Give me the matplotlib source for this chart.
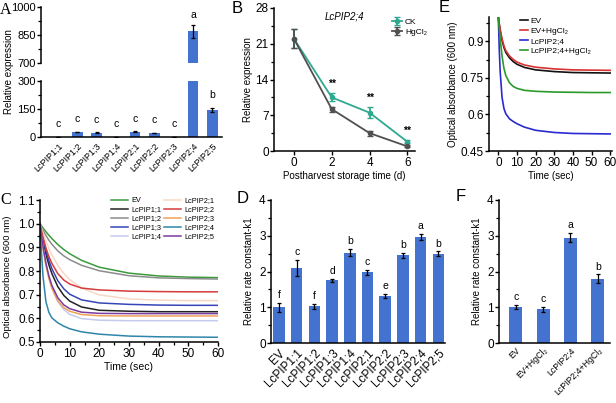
import matplotlib
matplotlib.use("Agg")
import matplotlib.pyplot as plt
import numpy as np

plt.rcParams['font.family'] = ['Liberation Sans', 'DejaVu Sans']
plt.rcParams['axes.linewidth'] = 1.1
plt.rcParams['xtick.major.width'] = 1.0
plt.rcParams['ytick.major.width'] = 1.0
plt.rcParams['ytick.minor.width'] = 0.9
plt.rcParams['xtick.minor.width'] = 0.9
plt.rcParams['xtick.major.size'] = 3
plt.rcParams['ytick.major.size'] = 3
plt.rcParams['ytick.minor.size'] = 2
plt.rcParams['xtick.minor.size'] = 2

BAR = '#4372cf'

# ---- data ----
# A: expression of PIP genes
a_genes = ['LcPIP1;1', 'LcPIP1;2', 'LcPIP1;3', 'LcPIP1;4', 'LcPIP2;1',
           'LcPIP2;2', 'LcPIP2;3', 'LcPIP2;4', 'LcPIP2;5']
a_vals = [1, 27, 24, 1, 28, 22, 1, 870, 145]
a_err = [0.5, 2, 2, 0.5, 2, 2, 0.5, 35, 12]
a_letters = ['c', 'c', 'c', 'c', 'c', 'c', 'c', 'a', 'b']

# B: LcPIP2;4 during storage
b_days = [0, 2, 4, 6]
b_ck = [22.0, 10.5, 7.5, 1.8]
b_ck_err = [1.8, 0.8, 1.1, 0.3]
b_hg = [22.0, 8.2, 3.5, 0.9]
b_hg_err = [1.8, 0.5, 0.5, 0.2]
b_stars = ['**', '**', '**']

# C: swelling curves
t_sec = [0, 0.5, 1, 2, 3, 4, 6, 8, 10, 14, 20, 30, 40, 50, 60]
c_names = ['EV', 'LcPIP1;1', 'LcPIP1;2', 'LcPIP1;3', 'LcPIP1;4',
           'LcPIP2;1', 'LcPIP2;2', 'LcPIP2;3', 'LcPIP2;4', 'LcPIP2;5']
c_curves = [
    [1.0, .991, .982, .966, .951, .937, .912, .891, .873, .845, .816, .791, .779, .774, .772],
    [1.0, .963, .930, .872, .826, .789, .734, .697, .673, .648, .634, .630, .628, .628, .628],
    [1.0, .985, .972, .950, .930, .913, .885, .864, .848, .824, .801, .780, .771, .768, .766],
    [1.0, .967, .938, .886, .844, .810, .759, .725, .702, .678, .665, .659, .656, .655, .655],
    [1.0, .948, .903, .829, .772, .729, .671, .637, .617, .599, .592, .590, .590, .590, .590],
    [1.0, .980, .960, .926, .895, .868, .824, .790, .764, .728, .699, .682, .677, .675, .675],
    [1.0, .970, .943, .897, .861, .832, .789, .762, .745, .728, .720, .715, .713, .712, .712],
    [1.0, .946, .899, .824, .769, .727, .674, .645, .630, .616, .611, .610, .610, .610, .610],
    [1.0, .880, .780, .670, .625, .602, .581, .567, .556, .543, .533, .525, .522, .521, .520],
    [1.0, .949, .904, .833, .779, .739, .687, .657, .641, .626, .621, .620, .620, .620, .620],
]
c_colors = ['#3c9a3c', '#222222', '#8c8c8c', '#3646b8', '#c4cbec',
            '#f6d8c4', '#d63c3c', '#f0a257', '#2d86aa', '#7b3ca2']

# D: rate constants
d_names = ['EV', 'LcPIP1;1', 'LcPIP1;2', 'LcPIP1;3', 'LcPIP1;4',
           'LcPIP2;1', 'LcPIP2;2', 'LcPIP2;3', 'LcPIP2;4', 'LcPIP2;5']
d_vals = [1.0, 2.1, 1.03, 1.75, 2.53, 1.98, 1.32, 2.45, 2.97, 2.5]
d_err = [0.12, 0.22, 0.07, 0.05, 0.1, 0.07, 0.05, 0.08, 0.08, 0.06]
d_letters = ['f', 'c', 'f', 'd', 'b', 'c', 'e', 'b', 'a', 'b']

# E: swelling with HgCl2
e_names = ['EV', 'EV+HgCl₂', 'LcPIP2;4', 'LcPIP2;4+HgCl₂']
e_curves = [
    [1.0, .970, .945, .905, .875, .855, .832, .817, .806, .793, .783, .776, .772, .771, .770],
    [1.0, .972, .948, .910, .882, .862, .840, .826, .815, .803, .794, .787, .783, .782, .781],
    [1.0, .870, .775, .670, .625, .603, .582, .571, .562, .548, .535, .526, .522, .521, .520],
    [1.0, .950, .910, .840, .790, .760, .730, .715, .707, .699, .695, .692, .691, .690, .690],
]
e_colors = ['#111111', '#d63232', '#2a2ad2', '#2a9a2a']

# F: rate constants with HgCl2
f_names = ['EV', 'EV+HgCl₂', 'LcPIP2;4', 'LcPIP2;4+HgCl₂']
f_vals = [1.0, 0.95, 2.95, 1.8]
f_err = [0.06, 0.07, 0.12, 0.12]
f_letters = ['c', 'c', 'a', 'b']

W, H = 616, 403
fig = plt.figure(figsize=(W / 100, H / 100), dpi=100)


def box(l, r, b, t):
    return [l / W, 1 - b / H, (r - l) / W, (b - t) / H]


def clean(ax, size=8):
    ax.spines['top'].set_visible(False)
    ax.spines['right'].set_visible(False)
    ax.tick_params(labelsize=size)
    ax.tick_params(axis='y', pad=0.8)
    ax.tick_params(axis='x', pad=1.5)


# ---- A (broken y axis) ----
axA_lo = fig.add_axes(box(41, 222, 137, 81))
axA_hi = fig.add_axes(box(41, 222, 63, 7))
xa = np.arange(len(a_genes))
for ax in (axA_lo, axA_hi):
    ax.bar(xa, a_vals, width=0.55, color=BAR)
    ax.errorbar(xa, a_vals, yerr=a_err, fmt='none', ecolor='black',
                elinewidth=0.9, capsize=1.5, capthick=0.9)
    ax.set_xlim(-0.88, 8.5)
    clean(ax)
axA_lo.set_ylim(0, 300)
axA_lo.set_yticks([0, 150, 300])
axA_lo.set_yticks([75, 225], minor=True)
axA_lo.set_xticks(xa)
axA_lo.set_xticklabels(a_genes, rotation=45, ha='right', fontsize=6.5,
                       rotation_mode='anchor')
axA_lo.tick_params(axis='x', length=0, pad=3)
axA_hi.set_ylim(700, 1000)
axA_hi.set_yticks([700, 850, 1000])
axA_hi.set_yticks([775, 925], minor=True)
axA_hi.spines['bottom'].set_visible(False)
axA_hi.set_xticks([])
for i in range(len(a_genes)):
    top = a_vals[i] + a_err[i]
    if top < 300:
        axA_lo.text(xa[i], max(top, 5) + 40, a_letters[i], ha='center',
                    va='bottom', fontsize=7.5)
    else:
        axA_hi.text(xa[i], top + 25, a_letters[i], ha='center',
                    va='bottom', fontsize=7.5)
fig.text(9 / W, 1 - 72 / H, 'Relative expression', rotation=90,
         ha='center', va='center', fontsize=7)

# ---- B ----
axB = fig.add_axes(box(274, 415, 151, 8))
axB.errorbar(b_days, b_ck, yerr=b_ck_err, color='#2fa890', marker='o',
             markersize=3, lw=1.3, capsize=2, label='CK')
axB.errorbar(b_days, b_hg, yerr=b_hg_err, color='#505050', marker='o',
             markersize=3, lw=1.3, capsize=2, label='HgCl₂')
for i in range(1, 4):
    axB.text(b_days[i], b_ck[i] + b_ck_err[i] + 0.8, b_stars[i - 1],
             ha='center', va='bottom', fontsize=7.5, fontweight='bold')
axB.set_xlim(-1.05, 6.4)
axB.set_ylim(0, 28)
axB.set_xticks(b_days)
axB.set_yticks([0, 7, 14, 21, 28])
axB.set_yticks([3.5, 10.5, 17.5, 24.5], minor=True)
clean(axB, 8.5)
axB.set_xlabel('Postharvest storage time (d)', fontsize=7, labelpad=1)
axB.set_ylabel('Relative expression', fontsize=7, labelpad=2)
axB.text(0.5, 0.94, 'LcPIP2;4', transform=axB.transAxes, ha='center',
         va='center', fontsize=7, style='italic')
axB.legend(loc='upper left', bbox_to_anchor=(0.84, 0.93), frameon=False,
           fontsize=6, handlelength=1.2, handletextpad=0.3,
           labelspacing=0.3, borderpad=0, borderaxespad=0)

# ---- E ----
axE = fig.add_axes(box(489, 612, 151, 17))
for i in range(len(e_names)):
    axE.plot(t_sec, e_curves[i], color=e_colors[i], lw=1.2, label=e_names[i])
axE.set_xlim(-5, 61)
axE.set_ylim(0.45, 1.0)
axE.set_xticks(range(0, 61, 10))
axE.set_yticks([0.45, 0.6, 0.75, 0.9])
axE.set_yticklabels(['0.45', '0.6', '0.75', '0.9'])
axE.set_yticks([0.525, 0.675, 0.825, 0.975], minor=True)
clean(axE, 8.5)
axE.set_xlabel('Time (sec)', fontsize=7, labelpad=1)
axE.set_ylabel('Optical absorbance (600 nm)', fontsize=7, labelpad=2)
axE.legend(loc='upper left', bbox_to_anchor=(0.25, 1.0), frameon=False,
           fontsize=6, handlelength=1.0, handletextpad=0.3,
           labelspacing=0.25, borderpad=0, borderaxespad=0)

# ---- C ----
axC = fig.add_axes(box(40, 218, 342, 200))
for i in range(len(c_names)):
    axC.plot(t_sec, c_curves[i], color=c_colors[i], lw=1.1, label=c_names[i])
axC.set_xlim(0, 60)
axC.set_ylim(0.5, 1.1)
axC.set_xticks(range(0, 61, 10))
axC.set_xticks(range(5, 60, 10), minor=True)
axC.set_yticks(np.arange(0.5, 1.11, 0.1))
axC.set_yticks(np.arange(0.55, 1.1, 0.1), minor=True)
axC.yaxis.set_major_formatter(matplotlib.ticker.FormatStrFormatter('%.1f'))
clean(axC, 8.5)
axC.set_xlabel('Time (sec)', fontsize=7.5, labelpad=1)
axC.set_ylabel('Optical absorbance (600 nm)', fontsize=6.8, labelpad=1)
axC.yaxis.set_label_coords(-0.155, 0.46)
axC.legend(loc='upper left', bbox_to_anchor=(0.4, 1.02), ncol=2,
           frameon=False, fontsize=5.3, handlelength=2.3, handletextpad=0.4,
           labelspacing=0.25, columnspacing=0.4, borderpad=0,
           borderaxespad=0)

# ---- D ----
axD = fig.add_axes(box(271, 445, 343, 200))
xd = np.arange(len(d_names))
axD.bar(xd, d_vals, width=0.65, color=BAR)
axD.errorbar(xd, d_vals, yerr=d_err, fmt='none', ecolor='black',
             elinewidth=0.9, capsize=1.5, capthick=0.9)
for i in range(len(d_names)):
    axD.text(xd[i], d_vals[i] + d_err[i] + 0.08, d_letters[i], ha='center',
             va='bottom', fontsize=7.5)
axD.set_xlim(-0.45, 9.38)
axD.set_ylim(0, 4)
axD.set_yticks([0, 1, 2, 3, 4])
axD.set_yticks([0.5, 1.5, 2.5, 3.5], minor=True)
axD.set_xticks(xd)
axD.set_xticklabels(d_names, rotation=45, ha='right', fontsize=7,
                    rotation_mode='anchor')
clean(axD, 8.5)
axD.tick_params(axis='x', length=0, pad=3)
axD.set_ylabel('Relative rate constant-k1', fontsize=7, labelpad=4)

# ---- F ----
axF = fig.add_axes(box(499, 610, 343, 200))
xf = np.arange(len(f_names))
axF.bar(xf, f_vals, width=0.48, color=BAR)
axF.errorbar(xf, f_vals, yerr=f_err, fmt='none', ecolor='black',
             elinewidth=0.9, capsize=1.5, capthick=0.9)
for i in range(len(f_names)):
    axF.text(xf[i], f_vals[i] + f_err[i] + 0.08, f_letters[i], ha='center',
             va='bottom', fontsize=7.5)
axF.set_xlim(-0.62, 3.45)
axF.set_ylim(0, 4)
axF.set_yticks([0, 1, 2, 3, 4])
axF.set_yticks([0.5, 1.5, 2.5, 3.5], minor=True)
axF.set_xticks(xf)
axF.set_xticklabels(f_names, rotation=45, ha='right', fontsize=6.5,
                    rotation_mode='anchor')
clean(axF, 8.5)
axF.tick_params(axis='x', length=0, pad=2)
axF.set_ylabel('Relative rate constant-k1', fontsize=7, labelpad=4)

# shrink the long F labels until they fit inside the picture
fig.canvas.draw()
size = 6.5
while size > 4 and min(t.get_window_extent().y0 for t in axF.get_xticklabels()) < 1:
    size -= 0.2
    for t in axF.get_xticklabels():
        t.set_fontsize(size)
    fig.canvas.draw()

# ---- panel letters ----
fig.text(0 / W, 1 - 2 / H, 'A', fontsize=11.5, family='Liberation Serif', va='top')
fig.text(0 / W, 1 - 192 / H, 'C', fontsize=11.5, family='Liberation Serif', va='top')
fig.text(232 / W, 1 - 1 / H, 'B', fontsize=12, va='top')
fig.text(237 / W, 1 - 191 / H, 'D', fontsize=12, va='top')
fig.text(439 / W, 1 - 0 / H, 'E', fontsize=12, va='top')
fig.text(456 / W, 1 - 189 / H, 'F', fontsize=12, va='top')

fig.savefig('out.png', dpi=100)
